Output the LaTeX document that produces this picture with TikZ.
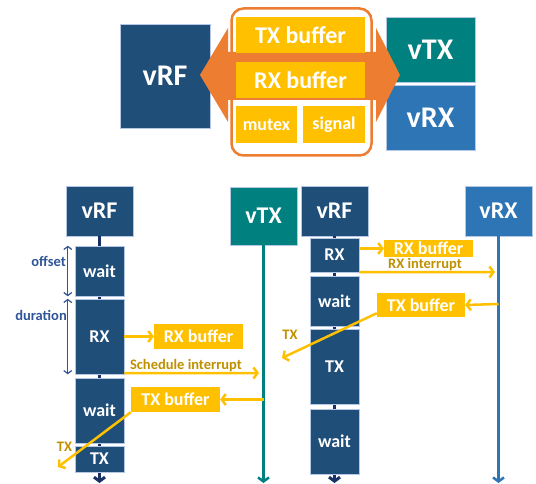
\documentclass[tikz,border=0pt]{standalone}
\usepackage{fontspec}
\setmainfont{Carlito}
\usetikzlibrary{arrows.meta}
\definecolor{rfblue}{HTML}{1F4E79}
\definecolor{rfline}{HTML}{1A3263}
\definecolor{txteal}{HTML}{00807E}
\definecolor{rxblue}{HTML}{2E75B6}
\definecolor{bufyel}{HTML}{FFC000}
\definecolor{lnkorg}{HTML}{ED7D31}
\definecolor{lblgold}{HTML}{BF9000}
\definecolor{spanblue}{HTML}{2F5597}
\definecolor{edge}{HTML}{B4C7E7}

\begin{document}
\begin{tikzpicture}[x=1pt, y=-1pt, inner sep=0pt, text=white]
\tikzstyle{blk} = [draw=edge, line width=0.5pt, fill=rfblue]
\tikzstyle{big} = [blk, font=\fontsize{30}{30}\selectfont\bfseries]
\tikzstyle{hdr} = [blk, minimum width=67pt, minimum height=50pt, font=\fontsize{24}{24}\selectfont\bfseries]
\tikzstyle{act} = [blk, minimum width=49pt, font=\fontsize{18}{18}\selectfont\bfseries]
\tikzstyle{buf} = [fill=bufyel, font=\fontsize{18}{18}\selectfont\bfseries]
\tikzstyle{lbl} = [text=lblgold, font=\fontsize{14.5}{14.5}\selectfont\bfseries]
\tikzstyle{note} = [text=spanblue, font=\fontsize{14.5}{14.5}\selectfont\bfseries]
\tikzstyle{msg} = [draw=bufyel, line width=2.5pt, -{Straight Barb[length=4pt, width=11pt]}]
\tikzstyle{lifeline} = [line width=3pt, -{Straight Barb[length=4pt, width=11pt]}]
\tikzstyle{spanarr} = [draw=spanblue, line width=1.2pt, {Straight Barb[length=3pt, width=8pt]}-{Straight Barb[length=3pt, width=8pt]}]

\useasboundingbox (0,0) rectangle (536,484);

\node[big, minimum width=90pt, minimum height=104pt] (vRF) at (165, 76) {vRF};
\node[big, fill=txteal, minimum width=89pt, minimum height=65pt] (vTX) at (430.5, 49.5) {vTX};
\node[big, fill=rxblue, minimum width=89pt, minimum height=65pt] (vRX) at (430.5, 117.5) {vRX};

\draw[white, line width=8pt, rounded corners=12pt] (231.5, 8.5) rectangle (371.5, 155.5);
\fill[lnkorg] (200, 75) -- (228, 28) -- (228, 52) -- (376, 52) -- (376, 28) -- (400, 75)
  -- (376, 122) -- (376, 100) -- (228, 100) -- (228, 122) -- cycle;
\draw[lnkorg, line width=2.5pt, rounded corners=12pt] (231.5, 8.5) rectangle (371.5, 155.5);

\node[buf, minimum width=129pt, minimum height=36pt, font=\fontsize{24}{24}\selectfont\bfseries] (TXbuf) at (300.5, 35) {TX buffer};
\node[buf, minimum width=129pt, minimum height=36pt, font=\fontsize{24}{24}\selectfont\bfseries] (RXbuf) at (300.5, 80) {RX buffer};
\node[buf, minimum width=61pt, minimum height=37pt] (mutex) at (266.5, 124.5) {mutex};
\node[buf, minimum width=62pt, minimum height=37pt] (signal) at (334, 124.5) {signal};

\node[hdr] (rfL) at (99.5, 211) {vRF};
\node[hdr, fill=txteal, minimum height=58pt] (txL) at (263.5, 216) {vTX};
\node[hdr] (rfR) at (334.5, 211) {vRF};
\node[hdr, fill=rxblue] (rxR) at (498.5, 211) {vRX};

\coordinate (endA) at (99.5, 483);
\coordinate (endB) at (263.5, 483);
\coordinate (endC) at (334.5, 483);
\coordinate (endD) at (498.5, 483);
\draw[lifeline, rfline] (rfL) -- (endA);
\draw[lifeline, txteal, line width=2.5pt] (txL) -- (endB);
\draw[lifeline, rfline] (rfR) -- (endC);
\draw[lifeline, rxblue, line width=2.5pt] (rxR) -- (endD);

\node[act, minimum height=50pt] (wait1) at (99.5, 271) {wait};
\node[act, minimum height=75pt] (RX1) at (99.5, 336.5) {RX};
\node[act, minimum height=65pt] (wait2) at (99.5, 410.5) {wait};
\node[act, minimum height=26pt] (TX1) at (99.5, 459) {TX};

\node[act, minimum height=34pt] (RX2) at (334.5, 255) {RX};
\node[act, minimum height=50pt] (wait3) at (334.5, 301) {wait};
\node[act, minimum height=75pt] (TX2) at (334.5, 366.5) {TX};
\node[act, minimum height=65pt] (wait4) at (334.5, 441.5) {wait};

\draw[spanarr] ([xshift=-7pt]wait1.north west) -- ([xshift=-7pt]wait1.south west);
\draw[spanarr] ([xshift=-7pt]RX1.north west) -- ([xshift=-7pt]RX1.south west);
\node[note, anchor=east] (offset) at (66, 261) {offset};
\node[note, anchor=east] (duration) at (67, 315) {duration};

\node[buf, minimum width=89pt, minimum height=25pt] (RXbufL) at (198.5, 336.5) {RX buffer};
\node[buf, minimum width=89pt, minimum height=25pt] (TXbufL) at (175.5, 399.5) {TX buffer};
\node[buf, minimum width=89pt, minimum height=17pt] (RXbufR) at (428.5, 248.5) {RX buffer};
\node[buf, minimum width=88pt, minimum height=24pt] (TXbufR) at (421, 305) {TX buffer};

\coordinate (schedA) at (259, 373);
\coordinate (fromTX) at (263.5, 399.5);
\coordinate (outA) at (58, 467);
\coordinate (rxint) at (495, 272);
\coordinate (fromRX) at (498.5, 304);
\coordinate (outB) at (282, 358);

\draw[msg] (RX1.east) -- (RXbufL.west);
\draw[msg] ([yshift=1pt]RX1.south east) -- (schedA);
\draw[msg] (fromTX) -- (TXbufL.east);
\draw[msg] (TXbufL.south west) -- (outA);
\node[lbl, anchor=base] (sched) at (186, 369) {Schedule interrupt};
\node[lbl] (txA) at (64.5, 447) {TX};

\draw[msg] (RX2.east |- RXbufR.west) -- (RXbufR.west);
\draw[msg] (RX2.south east) -- (rxint);
\draw[msg] (fromRX) -- (TXbufR.east);
\draw[msg] ([yshift=4pt]TXbufR.south west) -- (outB);
\node[lbl, anchor=base] (rxirq) at (425, 269) {RX interrupt};
\node[lbl] (txB) at (290, 335) {TX};
\end{tikzpicture}
\end{document}
